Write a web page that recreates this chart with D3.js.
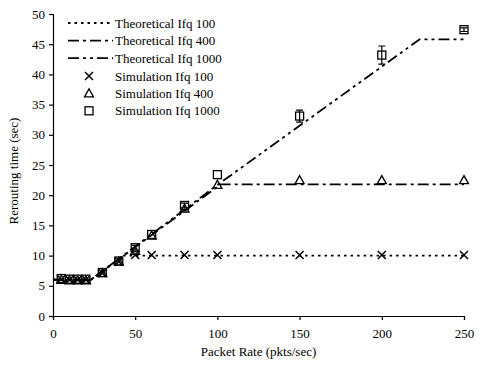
<!DOCTYPE html>
<html>
<head>
<meta charset="utf-8">
<script src="https://cdn.jsdelivr.net/npm/d3@7"></script>
<style>
  body { margin: 0; background: #fff; }
  svg { display: block; font-family: "Liberation Serif", "Times New Roman", serif; }
</style>
</head>
<body>
<svg id="chart"></svg>
<script>
// packet rates of the simulation runs
const rates = [5, 10, 15, 20, 30, 40, 50, 60, 80, 100, 150, 200, 250];
// simulated rerouting time (sec)
const sim100 = [6.1, 6.0, 6.0, 6.0, 7.1, 9.0, 10.1, 10.1, 10.1, 10.1, 10.1, 10.1, 10.1];
const sim400 = [6.0, 5.9, 5.9, 5.9, 7.1, 9.0, 10.8, 13.3, 17.8, 21.7, 22.5, 22.5, 22.5];
const sim1000 = [6.2, 6.1, 6.1, 6.1, 7.2, 9.1, 11.3, 13.5, 18.3, 23.4, 33.1, 43.2, 47.4];
const err1000 = [0, 0, 0, 0, 0, 0, 0.4, 0, 0.4, 0, 1.0, 1.5, 0.3];
// theoretical curves: [rate, time]
const theo100 = [[0, 6], [23, 6], [43, 10], [250, 10]];
const theo400 = [[0, 6], [23, 6], [102, 21.8], [250, 21.8]];
const theo1000 = [[0, 6], [23, 6], [100, 21.7], [223, 45.8], [250, 45.8]];
const xTicks = [0, 50, 100, 150, 200, 250];
const yTicks = [0, 5, 10, 15, 20, 25, 30, 35, 40, 45, 50];

const width = 480, height = 366;
const marge = { top: 14, left: 53, right: 16, bottom: 50 };
const svg = d3.select("#chart").attr("width", width).attr("height", height);

const x = d3.scaleLinear().domain([0, 250]).range([marge.left, width - marge.right]);
const y = d3.scaleLinear().domain([0, 50]).range([height - marge.bottom, marge.top]);

// axes
const gx = svg.append("g")
  .attr("transform", `translate(0,${y(0)})`)
  .call(d3.axisBottom(x).tickValues(xTicks).tickSize(4).tickPadding(9));
const gy = svg.append("g")
  .attr("transform", `translate(${x(0)},0)`)
  .call(d3.axisLeft(y).tickValues(yTicks).tickSize(4).tickPadding(4));
[gx, gy].forEach(g => {
  g.select(".domain").attr("stroke", "#000").attr("stroke-width", 1.2);
  g.selectAll(".tick line").attr("stroke", "#000").attr("stroke-width", 1.2);
  g.selectAll(".tick text").attr("font-size", 13).attr("font-family", "Liberation Serif").attr("fill", "#000");
});

svg.append("text")
  .attr("x", (x(0) + x(250)) / 2).attr("y", 356)
  .attr("text-anchor", "middle").attr("font-size", 13)
  .text("Packet Rate (pkts/sec)");
svg.append("text")
  .attr("transform", `translate(18,${(y(0) + y(50)) / 2 + 6}) rotate(-90)`)
  .attr("text-anchor", "middle").attr("font-size", 13)
  .text("Rerouting time (sec)");

// theoretical lines
const line = d3.line().x(d => x(d[0])).y(d => y(d[1]));
const theo = [
  { name: "Theoretical Ifq 100", data: theo100, dash: "2.5,4" },
  { name: "Theoretical Ifq 400", data: theo400, dash: "11,4,3,4" },
  { name: "Theoretical Ifq 1000", data: theo1000, dash: "11,4,3,4,3,4" }
];
svg.append("g").selectAll("path")
  .data(theo)
  .enter()
  .append("path")
  .attr("d", d => line(d.data))
  .attr("fill", "none")
  .attr("stroke", "#000")
  .attr("stroke-width", 1.8)
  .attr("stroke-dasharray", d => d.dash);

// markers
const mark = (g, type, cx, cy) => {
  if (type === "x") {
    g.append("path").attr("d", `M${cx - 4},${cy - 4}L${cx + 4},${cy + 4}M${cx - 4},${cy + 4}L${cx + 4},${cy - 4}`)
      .attr("stroke", "#000").attr("stroke-width", 1.5).attr("fill", "none");
  } else if (type === "tri") {
    g.append("path").attr("d", `M${cx},${cy - 4.5}L${cx + 4.5},${cy + 3.5}L${cx - 4.5},${cy + 3.5}Z`)
      .attr("stroke", "#000").attr("stroke-width", 1.3).attr("fill", "none");
  } else {
    g.append("rect").attr("x", cx - 4).attr("y", cy - 4).attr("width", 8).attr("height", 8)
      .attr("stroke", "#000").attr("stroke-width", 1.3).attr("fill", "none");
  }
};

const gm = svg.append("g");
// error bars for Ifq 1000
rates.forEach((r, i) => {
  if (err1000[i] > 0) {
    const cx = x(r);
    gm.append("path")
      .attr("d", `M${cx},${y(sim1000[i] - err1000[i])}V${y(sim1000[i] + err1000[i])}` +
        `M${cx - 3.5},${y(sim1000[i] - err1000[i])}h7M${cx - 3.5},${y(sim1000[i] + err1000[i])}h7`)
      .attr("stroke", "#000").attr("stroke-width", 1.2).attr("fill", "none");
  }
});
rates.forEach((r, i) => {
  mark(gm, "x", x(r), y(sim100[i]));
  mark(gm, "tri", x(r), y(sim400[i]));
  mark(gm, "sq", x(r), y(sim1000[i]));
});

// legend
const legend = svg.append("g");
theo.forEach((t, i) => {
  const ly = 23 + i * 17.6;
  legend.append("line").attr("x1", 68).attr("x2", 113).attr("y1", ly).attr("y2", ly)
    .attr("stroke", "#000").attr("stroke-width", 1.8).attr("stroke-dasharray", t.dash);
  legend.append("text").attr("x", 115).attr("y", ly + 4.5).attr("font-size", 13).text(t.name);
});
const simLeg = [["x", "Simulation Ifq 100"], ["tri", "Simulation Ifq 400"], ["sq", "Simulation Ifq 1000"]];
simLeg.forEach((s, i) => {
  const ly = 76 + i * 17.4;
  mark(legend, s[0], 89, ly);
  legend.append("text").attr("x", 115).attr("y", ly + 4.5).attr("font-size", 13).text(s[1]);
});
</script>
</body>
</html>
